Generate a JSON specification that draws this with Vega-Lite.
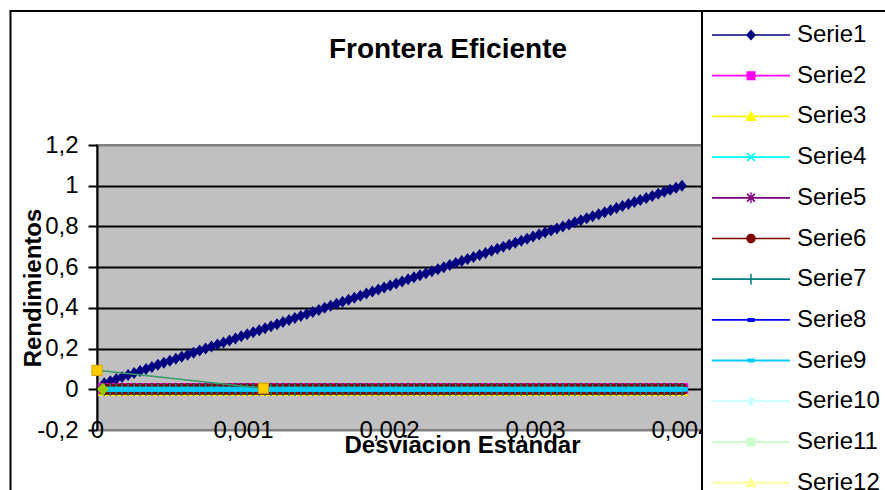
{
  "$schema": "https://vega.github.io/schema/vega-lite/v6.json",
  "width": 730,
  "height": 285,
  "autosize": "none",
  "padding": {"left": 97, "top": 145, "right": 58, "bottom": 60},
  "title": {"text": "Frontera Eficiente", "fontSize": 28, "fontWeight": "bold", "color": "black", "anchor": "middle", "frame": "group", "dx": -14, "offset": -76, "baseline": "alphabetic"},
  "datasets": {
    "main": [
      {"x":0.00005,"Serie1":0.03,"Serie2":0,"Serie3":0,"Serie4":0,"Serie5":0,"Serie6":0,"Serie7":0,"Serie8":0,"Serie9":0},
      {"x":0.000091,"Serie1":0.04,"Serie2":0,"Serie3":0,"Serie4":0,"Serie5":0,"Serie6":0,"Serie7":0,"Serie8":0,"Serie9":0},
      {"x":0.000132,"Serie1":0.05,"Serie2":0,"Serie3":0,"Serie4":0,"Serie5":0,"Serie6":0,"Serie7":0,"Serie8":0,"Serie9":0},
      {"x":0.000172,"Serie1":0.06,"Serie2":0,"Serie3":0,"Serie4":0,"Serie5":0,"Serie6":0,"Serie7":0,"Serie8":0,"Serie9":0},
      {"x":0.000213,"Serie1":0.07,"Serie2":0,"Serie3":0,"Serie4":0,"Serie5":0,"Serie6":0,"Serie7":0,"Serie8":0,"Serie9":0},
      {"x":0.000254,"Serie1":0.08,"Serie2":0,"Serie3":0,"Serie4":0,"Serie5":0,"Serie6":0,"Serie7":0,"Serie8":0,"Serie9":0},
      {"x":0.000295,"Serie1":0.09,"Serie2":0,"Serie3":0,"Serie4":0,"Serie5":0,"Serie6":0,"Serie7":0,"Serie8":0,"Serie9":0},
      {"x":0.000336,"Serie1":0.10,"Serie2":0,"Serie3":0,"Serie4":0,"Serie5":0,"Serie6":0,"Serie7":0,"Serie8":0,"Serie9":0},
      {"x":0.000376,"Serie1":0.11,"Serie2":0,"Serie3":0,"Serie4":0,"Serie5":0,"Serie6":0,"Serie7":0,"Serie8":0,"Serie9":0},
      {"x":0.000417,"Serie1":0.12,"Serie2":0,"Serie3":0,"Serie4":0,"Serie5":0,"Serie6":0,"Serie7":0,"Serie8":0,"Serie9":0},
      {"x":0.000458,"Serie1":0.13,"Serie2":0,"Serie3":0,"Serie4":0,"Serie5":0,"Serie6":0,"Serie7":0,"Serie8":0,"Serie9":0},
      {"x":0.000499,"Serie1":0.14,"Serie2":0,"Serie3":0,"Serie4":0,"Serie5":0,"Serie6":0,"Serie7":0,"Serie8":0,"Serie9":0},
      {"x":0.00054,"Serie1":0.15,"Serie2":0,"Serie3":0,"Serie4":0,"Serie5":0,"Serie6":0,"Serie7":0,"Serie8":0,"Serie9":0},
      {"x":0.00058,"Serie1":0.16,"Serie2":0,"Serie3":0,"Serie4":0,"Serie5":0,"Serie6":0,"Serie7":0,"Serie8":0,"Serie9":0},
      {"x":0.000621,"Serie1":0.17,"Serie2":0,"Serie3":0,"Serie4":0,"Serie5":0,"Serie6":0,"Serie7":0,"Serie8":0,"Serie9":0},
      {"x":0.000662,"Serie1":0.18,"Serie2":0,"Serie3":0,"Serie4":0,"Serie5":0,"Serie6":0,"Serie7":0,"Serie8":0,"Serie9":0},
      {"x":0.000703,"Serie1":0.19,"Serie2":0,"Serie3":0,"Serie4":0,"Serie5":0,"Serie6":0,"Serie7":0,"Serie8":0,"Serie9":0},
      {"x":0.000744,"Serie1":0.20,"Serie2":0,"Serie3":0,"Serie4":0,"Serie5":0,"Serie6":0,"Serie7":0,"Serie8":0,"Serie9":0},
      {"x":0.000784,"Serie1":0.21,"Serie2":0,"Serie3":0,"Serie4":0,"Serie5":0,"Serie6":0,"Serie7":0,"Serie8":0,"Serie9":0},
      {"x":0.000825,"Serie1":0.22,"Serie2":0,"Serie3":0,"Serie4":0,"Serie5":0,"Serie6":0,"Serie7":0,"Serie8":0,"Serie9":0},
      {"x":0.000866,"Serie1":0.23,"Serie2":0,"Serie3":0,"Serie4":0,"Serie5":0,"Serie6":0,"Serie7":0,"Serie8":0,"Serie9":0},
      {"x":0.000907,"Serie1":0.24,"Serie2":0,"Serie3":0,"Serie4":0,"Serie5":0,"Serie6":0,"Serie7":0,"Serie8":0,"Serie9":0},
      {"x":0.000948,"Serie1":0.25,"Serie2":0,"Serie3":0,"Serie4":0,"Serie5":0,"Serie6":0,"Serie7":0,"Serie8":0,"Serie9":0},
      {"x":0.000988,"Serie1":0.26,"Serie2":0,"Serie3":0,"Serie4":0,"Serie5":0,"Serie6":0,"Serie7":0,"Serie8":0,"Serie9":0},
      {"x":0.001029,"Serie1":0.27,"Serie2":0,"Serie3":0,"Serie4":0,"Serie5":0,"Serie6":0,"Serie7":0,"Serie8":0,"Serie9":0},
      {"x":0.00107,"Serie1":0.28,"Serie2":0,"Serie3":0,"Serie4":0,"Serie5":0,"Serie6":0,"Serie7":0,"Serie8":0,"Serie9":0},
      {"x":0.001111,"Serie1":0.29,"Serie2":0,"Serie3":0,"Serie4":0,"Serie5":0,"Serie6":0,"Serie7":0,"Serie8":0,"Serie9":0},
      {"x":0.001151,"Serie1":0.30,"Serie2":0,"Serie3":0,"Serie4":0,"Serie5":0,"Serie6":0,"Serie7":0,"Serie8":0,"Serie9":0},
      {"x":0.001192,"Serie1":0.31,"Serie2":0,"Serie3":0,"Serie4":0,"Serie5":0,"Serie6":0,"Serie7":0,"Serie8":0,"Serie9":0},
      {"x":0.001233,"Serie1":0.32,"Serie2":0,"Serie3":0,"Serie4":0,"Serie5":0,"Serie6":0,"Serie7":0,"Serie8":0,"Serie9":0},
      {"x":0.001274,"Serie1":0.33,"Serie2":0,"Serie3":0,"Serie4":0,"Serie5":0,"Serie6":0,"Serie7":0,"Serie8":0,"Serie9":0},
      {"x":0.001315,"Serie1":0.34,"Serie2":0,"Serie3":0,"Serie4":0,"Serie5":0,"Serie6":0,"Serie7":0,"Serie8":0,"Serie9":0},
      {"x":0.001355,"Serie1":0.35,"Serie2":0,"Serie3":0,"Serie4":0,"Serie5":0,"Serie6":0,"Serie7":0,"Serie8":0,"Serie9":0},
      {"x":0.001396,"Serie1":0.36,"Serie2":0,"Serie3":0,"Serie4":0,"Serie5":0,"Serie6":0,"Serie7":0,"Serie8":0,"Serie9":0},
      {"x":0.001437,"Serie1":0.37,"Serie2":0,"Serie3":0,"Serie4":0,"Serie5":0,"Serie6":0,"Serie7":0,"Serie8":0,"Serie9":0},
      {"x":0.001478,"Serie1":0.38,"Serie2":0,"Serie3":0,"Serie4":0,"Serie5":0,"Serie6":0,"Serie7":0,"Serie8":0,"Serie9":0},
      {"x":0.001519,"Serie1":0.39,"Serie2":0,"Serie3":0,"Serie4":0,"Serie5":0,"Serie6":0,"Serie7":0,"Serie8":0,"Serie9":0},
      {"x":0.001559,"Serie1":0.40,"Serie2":0,"Serie3":0,"Serie4":0,"Serie5":0,"Serie6":0,"Serie7":0,"Serie8":0,"Serie9":0},
      {"x":0.0016,"Serie1":0.41,"Serie2":0,"Serie3":0,"Serie4":0,"Serie5":0,"Serie6":0,"Serie7":0,"Serie8":0,"Serie9":0},
      {"x":0.001641,"Serie1":0.42,"Serie2":0,"Serie3":0,"Serie4":0,"Serie5":0,"Serie6":0,"Serie7":0,"Serie8":0,"Serie9":0},
      {"x":0.001682,"Serie1":0.43,"Serie2":0,"Serie3":0,"Serie4":0,"Serie5":0,"Serie6":0,"Serie7":0,"Serie8":0,"Serie9":0},
      {"x":0.001723,"Serie1":0.44,"Serie2":0,"Serie3":0,"Serie4":0,"Serie5":0,"Serie6":0,"Serie7":0,"Serie8":0,"Serie9":0},
      {"x":0.001763,"Serie1":0.45,"Serie2":0,"Serie3":0,"Serie4":0,"Serie5":0,"Serie6":0,"Serie7":0,"Serie8":0,"Serie9":0},
      {"x":0.001804,"Serie1":0.46,"Serie2":0,"Serie3":0,"Serie4":0,"Serie5":0,"Serie6":0,"Serie7":0,"Serie8":0,"Serie9":0},
      {"x":0.001845,"Serie1":0.47,"Serie2":0,"Serie3":0,"Serie4":0,"Serie5":0,"Serie6":0,"Serie7":0,"Serie8":0,"Serie9":0},
      {"x":0.001886,"Serie1":0.48,"Serie2":0,"Serie3":0,"Serie4":0,"Serie5":0,"Serie6":0,"Serie7":0,"Serie8":0,"Serie9":0},
      {"x":0.001927,"Serie1":0.49,"Serie2":0,"Serie3":0,"Serie4":0,"Serie5":0,"Serie6":0,"Serie7":0,"Serie8":0,"Serie9":0},
      {"x":0.001967,"Serie1":0.50,"Serie2":0,"Serie3":0,"Serie4":0,"Serie5":0,"Serie6":0,"Serie7":0,"Serie8":0,"Serie9":0},
      {"x":0.002008,"Serie1":0.51,"Serie2":0,"Serie3":0,"Serie4":0,"Serie5":0,"Serie6":0,"Serie7":0,"Serie8":0,"Serie9":0},
      {"x":0.002049,"Serie1":0.52,"Serie2":0,"Serie3":0,"Serie4":0,"Serie5":0,"Serie6":0,"Serie7":0,"Serie8":0,"Serie9":0},
      {"x":0.00209,"Serie1":0.53,"Serie2":0,"Serie3":0,"Serie4":0,"Serie5":0,"Serie6":0,"Serie7":0,"Serie8":0,"Serie9":0},
      {"x":0.002131,"Serie1":0.54,"Serie2":0,"Serie3":0,"Serie4":0,"Serie5":0,"Serie6":0,"Serie7":0,"Serie8":0,"Serie9":0},
      {"x":0.002171,"Serie1":0.55,"Serie2":0,"Serie3":0,"Serie4":0,"Serie5":0,"Serie6":0,"Serie7":0,"Serie8":0,"Serie9":0},
      {"x":0.002212,"Serie1":0.56,"Serie2":0,"Serie3":0,"Serie4":0,"Serie5":0,"Serie6":0,"Serie7":0,"Serie8":0,"Serie9":0},
      {"x":0.002253,"Serie1":0.57,"Serie2":0,"Serie3":0,"Serie4":0,"Serie5":0,"Serie6":0,"Serie7":0,"Serie8":0,"Serie9":0},
      {"x":0.002294,"Serie1":0.58,"Serie2":0,"Serie3":0,"Serie4":0,"Serie5":0,"Serie6":0,"Serie7":0,"Serie8":0,"Serie9":0},
      {"x":0.002335,"Serie1":0.59,"Serie2":0,"Serie3":0,"Serie4":0,"Serie5":0,"Serie6":0,"Serie7":0,"Serie8":0,"Serie9":0},
      {"x":0.002375,"Serie1":0.60,"Serie2":0,"Serie3":0,"Serie4":0,"Serie5":0,"Serie6":0,"Serie7":0,"Serie8":0,"Serie9":0},
      {"x":0.002416,"Serie1":0.61,"Serie2":0,"Serie3":0,"Serie4":0,"Serie5":0,"Serie6":0,"Serie7":0,"Serie8":0,"Serie9":0},
      {"x":0.002457,"Serie1":0.62,"Serie2":0,"Serie3":0,"Serie4":0,"Serie5":0,"Serie6":0,"Serie7":0,"Serie8":0,"Serie9":0},
      {"x":0.002498,"Serie1":0.63,"Serie2":0,"Serie3":0,"Serie4":0,"Serie5":0,"Serie6":0,"Serie7":0,"Serie8":0,"Serie9":0},
      {"x":0.002538,"Serie1":0.64,"Serie2":0,"Serie3":0,"Serie4":0,"Serie5":0,"Serie6":0,"Serie7":0,"Serie8":0,"Serie9":0},
      {"x":0.002579,"Serie1":0.65,"Serie2":0,"Serie3":0,"Serie4":0,"Serie5":0,"Serie6":0,"Serie7":0,"Serie8":0,"Serie9":0},
      {"x":0.00262,"Serie1":0.66,"Serie2":0,"Serie3":0,"Serie4":0,"Serie5":0,"Serie6":0,"Serie7":0,"Serie8":0,"Serie9":0},
      {"x":0.002661,"Serie1":0.67,"Serie2":0,"Serie3":0,"Serie4":0,"Serie5":0,"Serie6":0,"Serie7":0,"Serie8":0,"Serie9":0},
      {"x":0.002702,"Serie1":0.68,"Serie2":0,"Serie3":0,"Serie4":0,"Serie5":0,"Serie6":0,"Serie7":0,"Serie8":0,"Serie9":0},
      {"x":0.002742,"Serie1":0.69,"Serie2":0,"Serie3":0,"Serie4":0,"Serie5":0,"Serie6":0,"Serie7":0,"Serie8":0,"Serie9":0},
      {"x":0.002783,"Serie1":0.70,"Serie2":0,"Serie3":0,"Serie4":0,"Serie5":0,"Serie6":0,"Serie7":0,"Serie8":0,"Serie9":0},
      {"x":0.002824,"Serie1":0.71,"Serie2":0,"Serie3":0,"Serie4":0,"Serie5":0,"Serie6":0,"Serie7":0,"Serie8":0,"Serie9":0},
      {"x":0.002865,"Serie1":0.72,"Serie2":0,"Serie3":0,"Serie4":0,"Serie5":0,"Serie6":0,"Serie7":0,"Serie8":0,"Serie9":0},
      {"x":0.002906,"Serie1":0.73,"Serie2":0,"Serie3":0,"Serie4":0,"Serie5":0,"Serie6":0,"Serie7":0,"Serie8":0,"Serie9":0},
      {"x":0.002946,"Serie1":0.74,"Serie2":0,"Serie3":0,"Serie4":0,"Serie5":0,"Serie6":0,"Serie7":0,"Serie8":0,"Serie9":0},
      {"x":0.002987,"Serie1":0.75,"Serie2":0,"Serie3":0,"Serie4":0,"Serie5":0,"Serie6":0,"Serie7":0,"Serie8":0,"Serie9":0},
      {"x":0.003028,"Serie1":0.76,"Serie2":0,"Serie3":0,"Serie4":0,"Serie5":0,"Serie6":0,"Serie7":0,"Serie8":0,"Serie9":0},
      {"x":0.003069,"Serie1":0.77,"Serie2":0,"Serie3":0,"Serie4":0,"Serie5":0,"Serie6":0,"Serie7":0,"Serie8":0,"Serie9":0},
      {"x":0.00311,"Serie1":0.78,"Serie2":0,"Serie3":0,"Serie4":0,"Serie5":0,"Serie6":0,"Serie7":0,"Serie8":0,"Serie9":0},
      {"x":0.00315,"Serie1":0.79,"Serie2":0,"Serie3":0,"Serie4":0,"Serie5":0,"Serie6":0,"Serie7":0,"Serie8":0,"Serie9":0},
      {"x":0.003191,"Serie1":0.80,"Serie2":0,"Serie3":0,"Serie4":0,"Serie5":0,"Serie6":0,"Serie7":0,"Serie8":0,"Serie9":0},
      {"x":0.003232,"Serie1":0.81,"Serie2":0,"Serie3":0,"Serie4":0,"Serie5":0,"Serie6":0,"Serie7":0,"Serie8":0,"Serie9":0},
      {"x":0.003273,"Serie1":0.82,"Serie2":0,"Serie3":0,"Serie4":0,"Serie5":0,"Serie6":0,"Serie7":0,"Serie8":0,"Serie9":0},
      {"x":0.003314,"Serie1":0.83,"Serie2":0,"Serie3":0,"Serie4":0,"Serie5":0,"Serie6":0,"Serie7":0,"Serie8":0,"Serie9":0},
      {"x":0.003354,"Serie1":0.84,"Serie2":0,"Serie3":0,"Serie4":0,"Serie5":0,"Serie6":0,"Serie7":0,"Serie8":0,"Serie9":0},
      {"x":0.003395,"Serie1":0.85,"Serie2":0,"Serie3":0,"Serie4":0,"Serie5":0,"Serie6":0,"Serie7":0,"Serie8":0,"Serie9":0},
      {"x":0.003436,"Serie1":0.86,"Serie2":0,"Serie3":0,"Serie4":0,"Serie5":0,"Serie6":0,"Serie7":0,"Serie8":0,"Serie9":0},
      {"x":0.003477,"Serie1":0.87,"Serie2":0,"Serie3":0,"Serie4":0,"Serie5":0,"Serie6":0,"Serie7":0,"Serie8":0,"Serie9":0},
      {"x":0.003518,"Serie1":0.88,"Serie2":0,"Serie3":0,"Serie4":0,"Serie5":0,"Serie6":0,"Serie7":0,"Serie8":0,"Serie9":0},
      {"x":0.003558,"Serie1":0.89,"Serie2":0,"Serie3":0,"Serie4":0,"Serie5":0,"Serie6":0,"Serie7":0,"Serie8":0,"Serie9":0},
      {"x":0.003599,"Serie1":0.90,"Serie2":0,"Serie3":0,"Serie4":0,"Serie5":0,"Serie6":0,"Serie7":0,"Serie8":0,"Serie9":0},
      {"x":0.00364,"Serie1":0.91,"Serie2":0,"Serie3":0,"Serie4":0,"Serie5":0,"Serie6":0,"Serie7":0,"Serie8":0,"Serie9":0},
      {"x":0.003681,"Serie1":0.92,"Serie2":0,"Serie3":0,"Serie4":0,"Serie5":0,"Serie6":0,"Serie7":0,"Serie8":0,"Serie9":0},
      {"x":0.003721,"Serie1":0.93,"Serie2":0,"Serie3":0,"Serie4":0,"Serie5":0,"Serie6":0,"Serie7":0,"Serie8":0,"Serie9":0},
      {"x":0.003762,"Serie1":0.94,"Serie2":0,"Serie3":0,"Serie4":0,"Serie5":0,"Serie6":0,"Serie7":0,"Serie8":0,"Serie9":0},
      {"x":0.003803,"Serie1":0.95,"Serie2":0,"Serie3":0,"Serie4":0,"Serie5":0,"Serie6":0,"Serie7":0,"Serie8":0,"Serie9":0},
      {"x":0.003844,"Serie1":0.96,"Serie2":0,"Serie3":0,"Serie4":0,"Serie5":0,"Serie6":0,"Serie7":0,"Serie8":0,"Serie9":0},
      {"x":0.003885,"Serie1":0.97,"Serie2":0,"Serie3":0,"Serie4":0,"Serie5":0,"Serie6":0,"Serie7":0,"Serie8":0,"Serie9":0},
      {"x":0.003925,"Serie1":0.98,"Serie2":0,"Serie3":0,"Serie4":0,"Serie5":0,"Serie6":0,"Serie7":0,"Serie8":0,"Serie9":0},
      {"x":0.003966,"Serie1":0.99,"Serie2":0,"Serie3":0,"Serie4":0,"Serie5":0,"Serie6":0,"Serie7":0,"Serie8":0,"Serie9":0},
      {"x":0.004007,"Serie1":1.00,"Serie2":0,"Serie3":0,"Serie4":0,"Serie5":0,"Serie6":0,"Serie7":0,"Serie8":0,"Serie9":0}
    ],
    "extra": [
      {"serie": "Serie19", "x": 0.00004, "y": 0},
      {"serie": "Serie20", "x": 0, "y": 0.093},
      {"serie": "Serie20", "x": 0.00114, "y": 0.005},
      {"serie": "Serie26", "x": 0, "y": 0.093},
      {"serie": "Serie26", "x": 0.00114, "y": 0.005}
    ]
  },
  "layer": [
    {
      "data": {"values": [{}]},
      "mark": {"type": "rect", "fillOpacity": 0, "stroke": "black", "strokeWidth": 2},
      "encoding": {
        "x": {"datum": -0.0005925, "type": "quantitative", "scale": {"domain": [0, 0.005], "nice": false, "zero": false}},
        "x2": {"datum": 0.0065},
        "y": {"datum": 1.8583, "type": "quantitative", "scale": {"domain": [-0.2, 1.2], "nice": false, "zero": false}},
        "y2": {"datum": -0.6}
      }
    },
    {
      "data": {"name": "main"},
      "mark": {"type": "line", "color": "#000080", "strokeWidth": 1.5},
      "encoding": {
        "x": {"field": "x", "type": "quantitative", "scale": {"domain": [0, 0.005], "nice": false, "zero": false},
          "axis": {"title": "Desviacion Estandar", "values": [0, 0.001, 0.002, 0.003, 0.004], "labelExpr": "replace(format(datum.value, '.3~f'), '.', ',')", "domain": false, "ticks": false, "tickSize": 0, "grid": false, "labelFontSize": 24, "labelColor": "black", "labelPadding": 0, "labelBaseline": "middle", "labelFlush": false, "labelOverlap": false, "titleFontSize": 24, "titleFontWeight": "bold", "titleColor": "black", "titleY": 22, "titleBaseline": "alphabetic"}},
        "y": {"field": "Serie1", "type": "quantitative", "scale": {"domain": [-0.2, 1.2], "nice": false, "zero": false},
          "axis": {"title": "Rendimientos", "values": [-0.2, 0, 0.2, 0.4, 0.6, 0.8, 1, 1.2], "labelExpr": "replace(replace(format(datum.value, '.1~f'), '.', ','), '\u2212', '-')", "domain": true, "domainColor": "black", "domainWidth": 2, "ticks": true, "tickColor": "black", "tickWidth": 2, "tickSize": 9, "labelFontSize": 24, "labelColor": "black", "labelPadding": 10, "labelFlush": false, "labelOverlap": false,
            "grid": true, "gridColor": {"condition": {"test": "datum.value > 1.1 || datum.value < -0.1", "value": "#808080"}, "value": "black"}, "gridWidth": 2,
            "titleFontSize": 24, "titleFontWeight": "bold", "titleColor": "black", "titleX": -57, "titleY": 142.5, "titleAngle": 270, "titleBaseline": "alphabetic", "titleAlign": "center"}}
      }
    },
    {
      "data": {"name": "main"},
      "mark": {"type": "point", "filled": true, "opacity": 1, "color": "#000080", "size": 144, "shape": "M0,-1L0.8,0L0,1L-0.8,0Z"},
      "encoding": {
        "x": {"field": "x", "type": "quantitative"},
        "y": {"field": "Serie1", "type": "quantitative"}
      }
    },
    {
      "data": {"name": "main"},
      "transform": [{"fold": ["Serie2", "Serie3", "Serie4", "Serie5", "Serie6", "Serie7", "Serie8", "Serie9"], "as": ["serie", "valor"]}],
      "mark": {"type": "point", "filled": true, "opacity": 1, "size": 169},
      "encoding": {
        "x": {"field": "x", "type": "quantitative"},
        "y": {"field": "valor", "type": "quantitative"},
        "order": {"field": "serie", "type": "nominal"},
        "color": {"field": "serie", "type": "nominal", "legend": null,
          "scale": {"domain": ["Serie2", "Serie3", "Serie4", "Serie5", "Serie6", "Serie7", "Serie8", "Serie9"],
                    "range": ["#FF00FF", "#FFFF00", "#00FFFF", "#800080", "#800000", "#008080", "#0000FF", "#00CCFF"]}},
        "shape": {"field": "serie", "type": "nominal", "legend": null,
          "scale": {"domain": ["Serie2", "Serie3", "Serie4", "Serie5", "Serie6", "Serie7", "Serie8", "Serie9"],
                    "range": [
                      "M-0.95,-0.95H0.95V0.95H-0.95Z",
                      "M0,-0.9L1,1.05H-1Z",
                      "M-0.8,-0.6L-0.6,-0.8L0,-0.2L0.6,-0.8L0.8,-0.6L0.2,0L0.8,0.6L0.6,0.8L0,0.2L-0.6,0.8L-0.8,0.6L-0.2,0Z",
                      "M-0.8,-0.6L-0.6,-0.8L0,-0.2L0.6,-0.8L0.8,-0.6L0.2,0L0.8,0.6L0.6,0.8L0,0.2L-0.6,0.8L-0.8,0.6L-0.2,0ZM-0.12,-0.95H0.12V0.95H-0.12Z",
                      "M-0.92,0A0.92,0.92,0,0,1,0.92,0A0.92,0.92,0,0,1,-0.92,0Z",
                      "M-0.13,-0.9H0.13V-0.13H0.9V0.13H0.13V0.9H-0.13V0.13H-0.9V-0.13H-0.13Z",
                      "M-0.8,-0.3H0.8V0.3H-0.8Z",
                      "M-0.9,-0.38H0.9V0.38H-0.9Z"
                    ]}}
      }
    },
    {
      "data": {"name": "extra"},
      "transform": [{"filter": "datum.serie === 'Serie26'"}],
      "mark": {"type": "line", "color": "#339966", "strokeWidth": 1.5},
      "encoding": {
        "x": {"field": "x", "type": "quantitative"},
        "y": {"field": "y", "type": "quantitative"}
      }
    },
    {
      "data": {"name": "extra"},
      "transform": [{"filter": "datum.serie === 'Serie20'"}],
      "mark": {"type": "point", "filled": true, "opacity": 1, "color": "#FFCC00", "stroke": "#D9A300", "strokeWidth": 1, "size": 144, "shape": "M-0.85,-0.85H0.85V0.85H-0.85Z"},
      "encoding": {
        "x": {"field": "x", "type": "quantitative"},
        "y": {"field": "y", "type": "quantitative"}
      }
    },
    {
      "data": {"name": "extra"},
      "transform": [{"filter": "datum.serie === 'Serie19'"}],
      "mark": {"type": "point", "filled": true, "opacity": 1, "color": "#99CC00", "size": 169, "shape": "M0,-1L0.9,0L0,1L-0.9,0Z"},
      "encoding": {
        "x": {"field": "x", "type": "quantitative"},
        "y": {"field": "y", "type": "quantitative"}
      }
    },
    {
      "data": {"name": "extra"},
      "transform": [{"filter": "false"}],
      "mark": {"type": "point", "filled": true, "opacity": 1, "size": 100},
      "encoding": {
        "x": {"field": "x", "type": "quantitative"},
        "y": {"field": "y", "type": "quantitative"},
        "color": {"field": "serie", "type": "nominal",
          "scale": {"domain": ["Serie1", "Serie2", "Serie3", "Serie4", "Serie5", "Serie6", "Serie7", "Serie8", "Serie9", "Serie10", "Serie11", "Serie12"],
                    "range": ["#000080", "#FF00FF", "#FFFF00", "#00FFFF", "#800080", "#800000", "#008080", "#0000FF", "#00CCFF", "#CCFFFF", "#CCFFCC", "#FFFF99"]},
          "legend": {"orient": "none", "legendX": 605, "legendY": -134, "direction": "vertical", "title": null, "padding": 12, "fillColor": "white", "strokeColor": "black", "labelFontSize": 24, "labelFont": "Liberation Sans", "labelColor": "black", "symbolSize": 100, "symbolStrokeWidth": 0, "symbolOffset": 25, "labelOffset": 34, "rowPadding": 16.7, "symbolOpacity": 1,
            "encode": {"legend": {"update": {"strokeWidth": {"value": 2}}}}}},
        "shape": {"field": "serie", "type": "nominal",
          "scale": {"domain": ["Serie1", "Serie2", "Serie3", "Serie4", "Serie5", "Serie6", "Serie7", "Serie8", "Serie9", "Serie10", "Serie11", "Serie12"],
                    "range": [
                      "M-7.8,-0.17H7.8V0.17H-7.8ZM0,-1.1L1,0L0,1.1L-1,0Z",
                      "M-7.8,-0.17H7.8V0.17H-7.8ZM-0.9,-0.9H0.9V0.9H-0.9Z",
                      "M-7.8,-0.17H7.8V0.17H-7.8ZM0,-1.2L1.15,0.9H-1.15Z",
                      "M-7.8,-0.17H7.8V0.17H-7.8ZM-0.9,-0.66L-0.66,-0.9L0,-0.24L0.66,-0.9L0.9,-0.66L0.24,0L0.9,0.66L0.66,0.9L0,0.24L-0.66,0.9L-0.9,0.66L-0.24,0Z",
                      "M-7.8,-0.17H7.8V0.17H-7.8ZM-0.9,-0.66L-0.66,-0.9L0,-0.24L0.66,-0.9L0.9,-0.66L0.24,0L0.9,0.66L0.66,0.9L0,0.24L-0.66,0.9L-0.9,0.66L-0.24,0ZM-0.13,-1.1H0.13V1.1H-0.13Z",
                      "M-7.8,-0.17H7.8V0.17H-7.8ZM-0.95,0A0.95,0.95,0,0,1,0.95,0A0.95,0.95,0,0,1,-0.95,0Z",
                      "M-7.8,-0.17H7.8V0.17H-7.8ZM-0.15,-1.1H0.15V1.1H-0.15Z",
                      "M-7.8,-0.17H7.8V0.17H-7.8ZM-0.7,-0.4H0.7V0.4H-0.7Z",
                      "M-7.8,-0.2H7.8V0.2H-7.8ZM-0.7,-0.4H0.7V0.4H-0.7Z",
                      "M-7.8,-0.2H7.8V0.2H-7.8ZM0,-1.1L1,0L0,1.1L-1,0Z",
                      "M-7.8,-0.2H7.8V0.2H-7.8ZM-0.9,-0.9H0.9V0.9H-0.9Z",
                      "M-7.8,-0.2H7.8V0.2H-7.8ZM0,-1.2L1.15,0.9H-1.15Z"
                    ]},
          "legend": {"orient": "none", "legendX": 605, "legendY": -134, "direction": "vertical", "title": null, "padding": 12, "fillColor": "white", "strokeColor": "black", "labelFontSize": 24, "labelFont": "Liberation Sans", "labelColor": "black", "symbolSize": 100, "symbolStrokeWidth": 0, "symbolOffset": 25, "labelOffset": 34, "rowPadding": 16.7, "symbolOpacity": 1,
            "encode": {"legend": {"update": {"strokeWidth": {"value": 2}}}}}}
      }
    }
  ],
  "resolve": {"scale": {"color": "independent", "shape": "independent"}},
  "config": {
    "font": "Liberation Sans",
    "view": {"stroke": "#808080", "strokeWidth": 2, "fill": "#C0C0C0"},
    "axis": {"labelFont": "Liberation Sans", "titleFont": "Liberation Sans"},
    "title": {"font": "Liberation Sans"},
    "legend": {"labelFont": "Liberation Sans"}
  }
}
